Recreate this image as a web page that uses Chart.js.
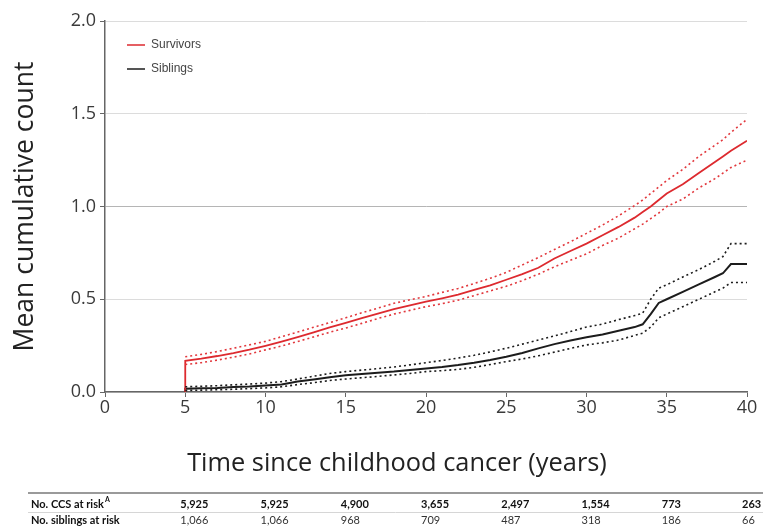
<!DOCTYPE html>
<html>
<head>
<meta charset="utf-8">
<script src="https://cdn.jsdelivr.net/npm/chart.js@4/dist/chart.umd.min.js"></script>
<style>
  html, body { margin: 0; padding: 0; background: #fff; }
  #wrap { width: 763px; height: 527px; }
</style>
</head>
<body>
<div id="wrap"><canvas id="c" width="763" height="527"></canvas></div>
<script>
// ---- data ----
const years = [5,6,7,8,9,10,11,12,13,14,15,16,17,18,19,20,21,22,23,24,25,26,27,28,29,30,31,32,33,33.5,34,34.5,35,36,37,38,38.5,39,40];
const survivors = [.168,.180,.194,.210,.228,.249,.272,.296,.322,.348,.373,.398,.422,.447,.467,.487,.505,.525,.550,.575,.605,.635,.670,.720,.760,.800,.845,.890,.940,.970,1.000,1.035,1.070,1.120,1.180,1.240,1.270,1.300,1.355];
const survivorsUpper = [.190,.203,.218,.236,.254,.273,.298,.323,.349,.374,.400,.427,.452,.478,.497,.515,.537,.558,.585,.613,.645,.685,.725,.768,.810,.855,.900,.950,1.005,1.035,1.070,1.105,1.140,1.200,1.270,1.330,1.360,1.400,1.470];
const survivorsLower = [.148,.158,.172,.188,.205,.227,.248,.272,.297,.322,.345,.370,.396,.420,.440,.460,.476,.495,.520,.545,.570,.600,.635,.675,.710,.745,.790,.830,.880,.905,.935,.965,1.000,1.040,1.100,1.150,1.180,1.210,1.250];
const siblings = [.018,.020,.022,.027,.030,.035,.040,.056,.068,.080,.090,.097,.104,.110,.118,.127,.135,.145,.158,.173,.190,.210,.235,.258,.278,.295,.310,.330,.350,.365,.420,.480,.500,.540,.580,.620,.640,.690,.690];
const siblingsUpper = [.028,.031,.034,.039,.043,.048,.056,.070,.085,.100,.110,.118,.126,.135,.146,.158,.170,.183,.198,.216,.236,.258,.280,.302,.326,.350,.366,.390,.412,.425,.500,.560,.578,.620,.660,.705,.730,.800,.800];
const siblingsLower = [.008,.010,.012,.015,.018,.022,.028,.040,.050,.062,.070,.077,.084,.092,.100,.110,.115,.122,.133,.148,.164,.178,.195,.215,.235,.254,.265,.280,.305,.317,.350,.400,.420,.460,.500,.540,.560,.590,.590];
const startValue = 0; // curves start from zero at year 5

const riskYears = [5,10,15,20,25,30,35,40];
const ccsAtRisk = ['5,925','5,925','4,900','3,655','2,497','1,554','773','263'];
const siblingsAtRisk = ['1,066','1,066','968','709','487','318','186','66'];

const seriesNames = ['Survivors','Siblings'];
const xTitle = 'Time since childhood cancer (years)';
const yTitle = 'Mean cumulative count';
const rowLabels = ['No. CCS at risk', 'No. siblings at risk'];

// ---- build ----
function pts(arr, withStart) {
  const out = years.map((x, i) => ({x: x, y: arr[i]}));
  if (withStart) out.unshift({x: years[0], y: startValue});
  return out;
}
const RED = '#dd2a2f', RED_CI = '#e2383d', BLACK = '#1c1c1c';

const datasets = [
  {data: pts(survivorsUpper), borderColor: RED_CI, borderWidth: 1.6, borderDash: [2,3]},
  {data: pts(survivorsLower), borderColor: RED_CI, borderWidth: 1.6, borderDash: [2,3]},
  {data: pts(siblingsUpper), borderColor: BLACK, borderWidth: 1.6, borderDash: [2,3]},
  {data: pts(siblingsLower), borderColor: BLACK, borderWidth: 1.6, borderDash: [2,3]},
  {label: seriesNames[0], data: pts(survivors, true), borderColor: RED, borderWidth: 1.8, legend: true},
  {label: seriesNames[1], data: pts(siblings, true), borderColor: BLACK, borderWidth: 2, legend: true}
];
datasets.forEach(d => { d.pointRadius = 0; d.tension = 0; d.fill = false; });

function fitFont(ctx, text, target, family, weight) {
  let size = 20;
  ctx.font = `${weight||''} ${size}px ${family}`;
  const w = ctx.measureText(text).width;
  size = size * target / w;
  return `${weight||''} ${size.toFixed(2)}px ${family}`;
}

const extras = {
  id: 'extras',
  afterDraw(chart) {
    const ctx = chart.ctx;
    const xs = chart.scales.x, ca = chart.chartArea;
    ctx.save();
    // legend
    ctx.font = '12px "Liberation Sans", Arial, sans-serif';
    ctx.textBaseline = 'middle';
    ctx.textAlign = 'left';
    let ly = 45;
    chart.data.datasets.filter(d => d.legend).forEach(d => {
      ctx.strokeStyle = d.borderColor;
      ctx.lineWidth = 1.5;
      ctx.setLineDash([]);
      ctx.beginPath(); ctx.moveTo(127, ly); ctx.lineTo(145, ly); ctx.stroke();
      ctx.fillStyle = '#444';
      ctx.fillText(d.label, 151, ly);
      ly += 24;
    });
    // axis titles
    ctx.fillStyle = '#222';
    ctx.textAlign = 'center';
    ctx.font = fitFont(ctx, xTitle, 420, '"Open Sans", sans-serif');
    ctx.fillText(xTitle, 397, 464);
    ctx.save();
    ctx.translate(25, (ca.top + ca.bottom) / 2);
    ctx.rotate(-Math.PI / 2);
    ctx.font = fitFont(ctx, yTitle, 290, '"Open Sans", sans-serif');
    ctx.fillText(yTitle, 0, 0);
    ctx.restore();
    // at-risk table
    ctx.strokeStyle = '#9a9a9a';
    ctx.lineWidth = 2;
    ctx.beginPath(); ctx.moveTo(28, 493); ctx.lineTo(763, 493); ctx.stroke();
    ctx.strokeStyle = '#d6d6d6';
    ctx.lineWidth = 1;
    ctx.beginPath(); ctx.moveTo(28, 512.5); ctx.lineTo(763, 512.5); ctx.stroke();
    ctx.textAlign = 'left';
    ctx.fillStyle = '#111';
    ctx.font = 'bold 11px Lato, sans-serif';
    ctx.fillText(rowLabels[0], 31, 504);
    const lw = ctx.measureText(rowLabels[0]).width;
    ctx.font = 'bold 7px Lato, sans-serif';
    ctx.fillText('A', 31 + lw + 1, 500);
    ctx.font = 'bold 11px Lato, sans-serif';
    riskYears.forEach((yr, i) => ctx.fillText(ccsAtRisk[i], xs.getPixelForValue(yr) - 5, 504));
    ctx.fillText(rowLabels[1], 31, 520);
    ctx.font = '11px Lato, sans-serif';
    ctx.fillStyle = '#333';
    riskYears.forEach((yr, i) => ctx.fillText(siblingsAtRisk[i], xs.getPixelForValue(yr) - 5, 520));
    ctx.restore();
  }
};

new Chart(document.getElementById('c'), {
  type: 'line',
  data: {datasets},
  options: {
    responsive: false,
    animation: false,
    events: [],
    layout: {padding: {top: 21, right: 16, left: 0, bottom: 0}},
    plugins: {legend: {display: false}, tooltip: {enabled: false}},
    scales: {
      x: {
        type: 'linear', min: 0, max: 40,
        afterFit(s) { s.height = 135; },
        ticks: {stepSize: 5, color: '#3a3a3a', font: {family: '"Open Sans", sans-serif', size: 18}, padding: 0, maxRotation: 0},
        grid: {drawOnChartArea: false, drawTicks: true, tickLength: 5, color: '#666'},
        border: {color: '#666', width: 1.5}
      },
      y: {
        min: 0, max: 2,
        afterFit(s) { s.width = 105; },
        ticks: {stepSize: 0.5, color: '#3a3a3a', font: {family: '"Open Sans", sans-serif', size: 18}, padding: 4,
                callback: v => v.toFixed(1)},
        grid: {color: ctx => ctx.tick && ctx.tick.value === 1 ? '#b5b5b5' : '#dcdcdc', tickLength: 5, tickColor: '#666', lineWidth: 1},
        border: {color: '#666', width: 1.5}
      }
    }
  },
  plugins: [extras]
});
</script>
</body>
</html>
